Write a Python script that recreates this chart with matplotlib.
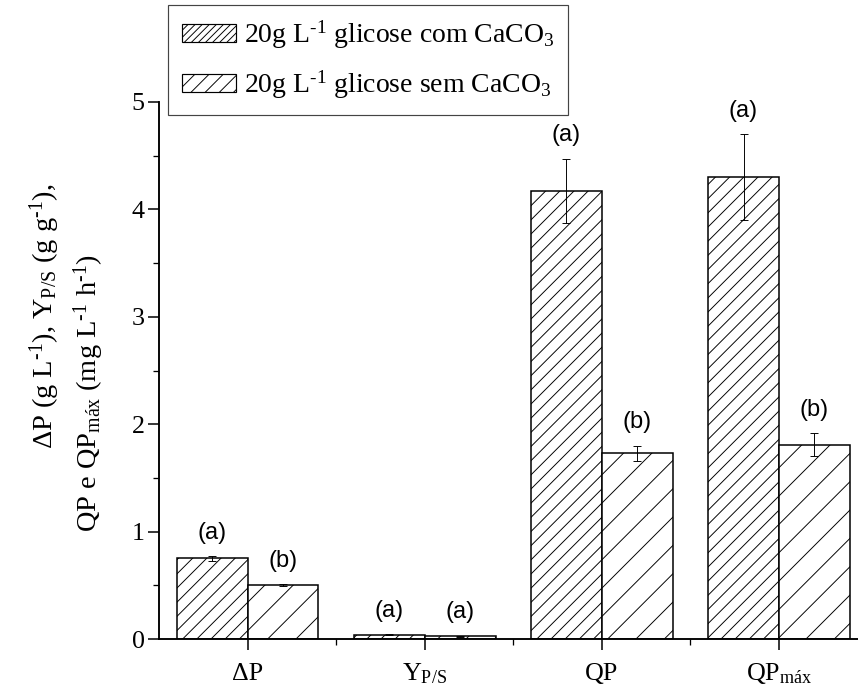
import matplotlib
matplotlib.use('Agg')
import matplotlib.pyplot as plt
import numpy as np
from matplotlib.patches import Patch

plt.rcParams['font.family'] = ['Liberation Serif', 'DejaVu Serif']
plt.rcParams['mathtext.fontset'] = 'custom'
plt.rcParams['mathtext.rm'] = 'Liberation Serif'
plt.rcParams['mathtext.it'] = 'Liberation Serif:italic'
plt.rcParams['mathtext.bf'] = 'Liberation Serif:bold'
plt.rcParams['hatch.linewidth'] = 0.8

# data
categories = ['ΔP', r'Y$_{\mathrm{P/S}}$', 'QP', r'QP$_{\mathrm{máx}}$']
com_caco3 = [0.75, 0.04, 4.17, 4.30]
com_err = [0.02, 0.004, 0.30, 0.40]
sem_caco3 = [0.50, 0.025, 1.73, 1.81]
sem_err = [0.01, 0.002, 0.07, 0.105]
com_letters = ['(a)', '(a)', '(a)', '(a)']
sem_letters = ['(b)', '(a)', '(b)', '(b)']
series_names = ['20g L$^{\u2010\\mathrm{1}}$ glicose com CaCO$_{\\mathrm{3}}$',
                '20g L$^{\u2010\\mathrm{1}}$ glicose sem CaCO$_{\\mathrm{3}}$']
ylabel_1 = 'ΔP (g L$^{\u2010\\mathrm{1}}$), Y$_{\\mathrm{P/S}}$ (g g$^{\u2010\\mathrm{1}}$),'
ylabel_2 = 'QP e QP$_{\\mathrm{máx}}$ (mg L$^{\u2010\\mathrm{1}}$ h$^{\u2010\\mathrm{1}}$)'

DPI = 85
fig = plt.figure(figsize=(858 / DPI, 691 / DPI), dpi=DPI)
ax = fig.add_axes([159 / 858, 52 / 691, (867.5 - 159) / 858, (639 - 102) / 691])

x = np.arange(1, len(categories) + 1)
w = 0.4

ax.bar(x - w / 2, com_caco3, w, facecolor='white', edgecolor='black',
       linewidth=1.3, hatch='//', zorder=2)
ax.bar(x + w / 2, sem_caco3, w, facecolor='white', edgecolor='black',
       linewidth=1.3, hatch='/', zorder=2)

ax.errorbar(x - w / 2, com_caco3, yerr=com_err, fmt='none', ecolor='black',
            elinewidth=0.8, capsize=3.5, capthick=0.8, zorder=3)
ax.errorbar(x + w / 2, sem_caco3, yerr=sem_err, fmt='none', ecolor='black',
            elinewidth=0.8, capsize=3.5, capthick=0.8, zorder=3)

for xi, v, e, t in zip(x - w / 2, com_caco3, com_err, com_letters):
    ax.annotate(t, (xi, v + e), xytext=(0, 20), textcoords='offset points',
                ha='center', va='center', fontfamily='Liberation Sans', fontsize=20)
for xi, v, e, t in zip(x + w / 2, sem_caco3, sem_err, sem_letters):
    ax.annotate(t, (xi, v + e), xytext=(0, 20), textcoords='offset points',
                ha='center', va='center', fontfamily='Liberation Sans', fontsize=20)

ax.set_xlim(0.5, 4.5)
ax.set_ylim(0, 5)
ax.set_xticks(x)
ax.set_xticklabels(categories, fontsize=22)
ax.set_xticks([1.5, 2.5, 3.5], minor=True)
ax.set_yticks(range(6))
ax.set_yticks(np.arange(0.5, 5, 1), minor=True)
ax.tick_params(axis='y', labelsize=22)
ax.tick_params(which='major', direction='out', length=9.5, width=1.3)
ax.tick_params(which='minor', direction='out', length=5, width=1.1)
ax.tick_params(axis='y', pad=2.5)
ax.tick_params(axis='x', pad=20)
for lab in ax.get_xticklabels():
    lab.set_va('center')

for side in ['top', 'right']:
    ax.spines[side].set_visible(False)
for side in ['left', 'bottom']:
    ax.spines[side].set_linewidth(1.6)

fig.text(45 / 858, 1 - 316 / 691, ylabel_1, rotation=90, ha='center', va='center', fontsize=24)
fig.text(89 / 858, 1 - 393 / 691, ylabel_2, rotation=90, ha='center', va='center', fontsize=24)

handles = [Patch(facecolor='white', edgecolor='black', hatch='////', linewidth=1),
           Patch(facecolor='white', edgecolor='black', hatch='//', linewidth=1)]
leg = fig.legend(handles, series_names, loc='upper left',
                 bbox_to_anchor=(168 / 858, 1 - 5 / 691), bbox_transform=fig.transFigure,
                 fontsize=23.5, handlelength=1.95, handleheight=0.6, handletextpad=0.3,
                 labelspacing=0.62, borderaxespad=0, borderpad=0.5,
                 fancybox=False, framealpha=1, edgecolor='#444444')
leg.get_frame().set_linewidth(1.0)

fig.savefig('out.png', dpi=DPI)
